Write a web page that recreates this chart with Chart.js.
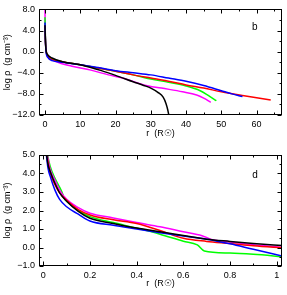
<!DOCTYPE html>
<html>
<head>
<meta charset="utf-8">
<script src="https://cdn.jsdelivr.net/npm/chart.js@4.4.1/dist/chart.umd.min.js"></script>
<style>
  html, body { margin: 0; padding: 0; background: #fff; }
  #wrap { position: relative; width: 287px; height: 295px; }
  .box { position: absolute; left: 0; width: 287px; }
</style>
</head>
<body>
<div id="wrap">
  <div class="box" style="top:0;height:145px"><canvas id="chartB" width="287" height="145"></canvas></div>
  <div class="box" style="top:145px;height:150px"><canvas id="chartD" width="287" height="150"></canvas></div>
</div>
<script>
// panel b: log rho vs r (Rsun), large scale
const bMagenta = [[0,8],[0.1,3],[0.3,0.5],[0.8,-0.8],[2,-1.5],[4,-2.1],[8,-2.8],[13,-3.5],[18,-4.4],[22,-5.0],[28,-6.3],[33,-6.9],[39,-7.6],[43,-8.2],[45,-8.8],[47,-9.6]];
const bGreen = [[0,6.5],[0.1,3],[0.3,0.3],[0.8,-0.8],[2,-1.4],[5,-1.9],[10,-2.5],[15,-3.1],[20,-3.7],[25,-4.4],[30,-5.2],[35,-5.8],[40,-6.5],[44,-7.4],[47,-8.6],[48.6,-9.3]];
const bBlue = [[0,5.5],[0.1,2.5],[0.3,0],[0.8,-1.1],[2,-1.7],[5,-2.0],[10,-2.5],[15,-3.0],[20,-3.6],[25,-4.0],[30,-4.4],[35,-5.0],[40,-5.6],[45,-6.4],[50,-7.4],[53,-8.0],[56,-8.5]];
const bRed = [[0,5],[0.1,2.5],[0.3,0.2],[0.8,-0.9],[2,-1.5],[5,-1.9],[10,-2.5],[15,-3.1],[20,-3.7],[25,-4.4],[30,-5.0],[35,-5.6],[40,-6.3],[45,-6.9],[50,-7.6],[56,-8.3],[64,-9.15]];
const bBlack = [[0,5],[0.1,2.5],[0.3,0.3],[0.8,-0.6],[2,-1.2],[5,-1.9],[10,-2.5],[13,-3.0],[16,-3.6],[20,-4.5],[25,-5.7],[28,-6.4],[30,-6.9],[32,-7.7],[33.5,-8.6],[34.3,-9.8],[34.8,-11],[35.1,-12]];

// panel d: inner region
const dMagenta = [[0.005,6],[0.02,4.8],[0.03,4.2],[0.05,3.65],[0.07,3.1],[0.1,2.6],[0.15,2.15],[0.2,1.85],[0.3,1.6],[0.4,1.35],[0.5,1.12],[0.6,0.85],[0.68,0.64],[0.72,0.44],[0.8,0.3],[0.9,0.15],[1.03,0.0]];
const dRed = [[0.005,6],[0.02,4.6],[0.03,4.0],[0.05,3.4],[0.07,2.95],[0.1,2.55],[0.15,2.05],[0.2,1.76],[0.3,1.5],[0.4,1.3],[0.5,0.92],[0.6,0.5],[0.7,0.33],[0.8,0.22],[0.9,0.1],[1.03,-0.02]];
const dBlack = [[0.005,6],[0.02,4.5],[0.03,4.1],[0.05,3.47],[0.07,2.95],[0.1,2.5],[0.15,1.95],[0.2,1.58],[0.3,1.3],[0.4,1.05],[0.5,0.85],[0.6,0.65],[0.7,0.45],[0.8,0.33],[0.9,0.22],[1.03,0.1]];
const dGreen = [[0.005,6],[0.02,4.9],[0.03,4.37],[0.05,3.74],[0.08,3.0],[0.09,2.65],[0.1,2.5],[0.15,2.0],[0.2,1.67],[0.3,1.35],[0.4,1.05],[0.5,0.72],[0.6,0.34],[0.66,0.14],[0.69,-0.19],[0.8,-0.3],[0.9,-0.37],[1.03,-0.5]];
const dBlue = [[0.005,6],[0.02,4.3],[0.03,3.83],[0.05,3.1],[0.07,2.6],[0.1,2.2],[0.15,1.8],[0.2,1.43],[0.3,1.2],[0.4,1.0],[0.5,0.8],[0.6,0.62],[0.7,0.45],[0.8,0.2],[0.9,-0.1],[1.03,-0.48]];

const bXTicks = [0, 10, 20, 30, 40, 50, 60];
const bYTicks = [8, 4, 0, -4, -8, -12];
const dXTicks = [0, 0.2, 0.4, 0.6, 0.8, 1];
const dYTicks = [5, 4, 3, 2, 1, 0, -1];

const FONT = { family: 'Liberation Sans, Arial, sans-serif', size: 9 };
const minus = s => s.replace('-', '\u2212');

function line(data, color) {
  return {
    data: data.map(p => ({ x: p[0], y: p[1] })),
    borderColor: color,
    borderWidth: 1.5,
    pointRadius: 0,
    cubicInterpolationMode: 'monotone',
    fill: false
  };
}

// inward ticks on all four sides + frame + panel letter
const frame = {
  id: 'frame',
  afterDraw(chart, args, o) {
    const { ctx, chartArea: a, scales: { x, y } } = chart;
    const L = Math.round(a.left) + 0.5, R = Math.round(a.right) - 0.5;
    const T = Math.round(a.top) + 0.5, B = Math.round(a.bottom) - 0.5;
    ctx.save();
    ctx.strokeStyle = '#000';
    ctx.lineWidth = 1;
    ctx.strokeRect(L, T, R - L, B - T);
    ctx.beginPath();
    const tx = (v, len) => {
      const px = Math.round(x.getPixelForValue(v)) + 0.5;
      ctx.moveTo(px, B); ctx.lineTo(px, B - len);
      ctx.moveTo(px, T); ctx.lineTo(px, T + len);
    };
    const ty = (v, len) => {
      const py = Math.round(y.getPixelForValue(v)) + 0.5;
      ctx.moveTo(L, py); ctx.lineTo(L + len, py);
      ctx.moveTo(R, py); ctx.lineTo(R - len, py);
    };
    for (let v = o.x0; v <= o.x1 + 1e-9; v += o.xStep) {
      const major = Math.abs(v / o.xMajor - Math.round(v / o.xMajor)) < 1e-6;
      tx(v, major ? 4 : 2);
    }
    for (let v = o.y0; v <= o.y1 + 1e-9; v += o.yStep) {
      const major = Math.abs(v / o.yMajor - Math.round(v / o.yMajor)) < 1e-6;
      ty(v, major ? 4 : 2);
    }
    ctx.stroke();
    ctx.fillStyle = '#000';
    ctx.font = '10px Liberation Sans, Arial, sans-serif';
    ctx.textAlign = 'center';
    ctx.textBaseline = 'middle';
    ctx.fillText(o.letter, x.getPixelForValue(o.lx), y.getPixelForValue(o.ly));
    ctx.restore();
  }
};

function makeChart(id, sets, xr, yr, xTicks, yTicks, xFmt, pad, xH, frameOpts) {
  return new Chart(document.getElementById(id), {
    type: 'line',
    data: { datasets: sets },
    options: {
      responsive: false,
      animation: false,
      devicePixelRatio: 1,
      layout: { padding: pad },
      plugins: { legend: { display: false }, tooltip: { enabled: false }, frame: frameOpts },
      scales: {
        x: {
          type: 'linear', min: xr[0], max: xr[1],
          afterBuildTicks: s => { s.ticks = xTicks.map(v => ({ value: v })); },
          afterFit: s => { s.height = xH; },
          grid: { display: false, drawTicks: false },
          border: { display: false },
          ticks: { font: FONT, color: '#000', padding: 4, maxRotation: 0, autoSkip: false, callback: xFmt },
          title: { display: true, text: 'r  (R\u2609)', font: FONT, color: '#000', padding: { top: 0, bottom: 6 } }
        },
        y: {
          type: 'linear', min: yr[0], max: yr[1],
          afterBuildTicks: s => { s.ticks = yTicks.map(v => ({ value: v })); },
          afterFit: s => { s.width = 39; },
          grid: { display: false, drawTicks: false },
          border: { display: false },
          ticks: { font: FONT, color: '#000', padding: 4, autoSkip: false, callback: v => minus(v.toFixed(1)) },
          title: { display: true, text: 'log \u03c1  (g cm\u207b\u00b3)', font: FONT, color: '#000', padding: { top: 2, bottom: 0 } }
        }
      }
    },
    plugins: [frame]
  });
}

makeChart('chartB',
  [line(bBlack, '#000000'), line(bBlue, '#0000ff'), line(bRed, '#ff0000'), line(bGreen, '#00ff00'), line(bMagenta, '#ff00ff')],
  [-1.7, 67.2], [-12, 8], bXTicks, bYTicks, v => String(v),
  { top: 5, right: 5, left: 0, bottom: 0 }, 30,
  { x0: 0, x1: 65, xStep: 5, xMajor: 10, y0: -12, y1: 8, yStep: 2, yMajor: 4, letter: 'b', lx: 59.5, ly: 4.55 });

makeChart('chartD',
  [line(dBlack, '#000000'), line(dBlue, '#0000ff'), line(dRed, '#ff0000'), line(dMagenta, '#ff00ff'), line(dGreen, '#00ff00')],
  [-0.0184, 1.0227], [-1, 5], dXTicks, dYTicks, v => String(v),
  { top: 10, right: 5, left: 0, bottom: 0 }, 29,
  { x0: 0, x1: 1, xStep: 0.1, xMajor: 0.2, y0: -1, y1: 5, yStep: 0.5, yMajor: 1, letter: 'd', lx: 0.907, ly: 3.92 });
</script>
</body>
</html>
